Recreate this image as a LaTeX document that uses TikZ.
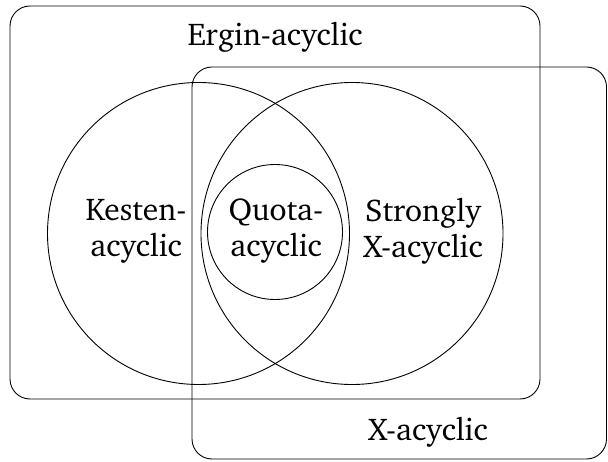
\documentclass[tikz,border=0pt]{standalone}
\usepackage[T1]{fontenc}
\renewcommand{\rmdefault}{bch}
\begin{document}
\begin{tikzpicture}[x=1pt,y=-1pt,
  setbox/.style={draw=black, line width=0.9pt, rounded corners=20pt},
  setcirc/.style={draw=black, line width=0.9pt},
  lbl/.style={inner sep=0pt, align=center, font=\fontsize{31.5}{36}\selectfont}]
\useasboundingbox (0,0) rectangle (608,462);
\draw[setbox] (10,6) rectangle (540,399);
\draw[setbox] (192,67) rectangle (606.5,459);
\draw[setcirc] (198.5,233.5) circle[radius=151];
\draw[setcirc] (352,233.5) circle[radius=151];
\draw[setcirc] (275,232) circle[radius=67.5];
\node[lbl] (ergin) at (275,37) {Ergin-acyclic};
\node[lbl] (xacyc) at (428,432) {X-acyclic};
\node[lbl] (kesten) at (136,231) {Kesten-\\acyclic};
\node[lbl] (quota) at (276,231) {Quota-\\acyclic};
\node[lbl] (strong) at (423,231) {Strongly\\X-acyclic};
\end{tikzpicture}
\end{document}
